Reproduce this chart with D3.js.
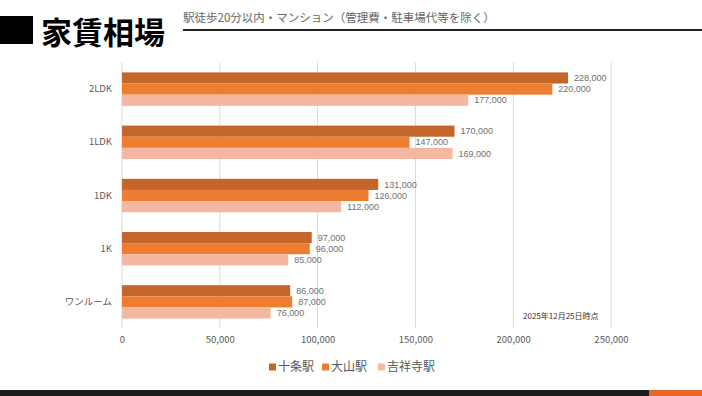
<!DOCTYPE html>
<html>
<head>
<meta charset="utf-8">
<script src="https://cdn.jsdelivr.net/npm/d3@7"></script>
<style>
  body { margin: 0; background: #fff; }
  svg { display: block; font-family: "Noto Sans CJK JP", "Noto Sans", sans-serif; }
</style>
</head>
<body>
<div id="chart"></div>
<script>
// data
const categories = ["2LDK", "1LDK", "1DK", "1K", "ワンルーム"];
const stations = ["十条駅", "大山駅", "吉祥寺駅"];
const jujo = [228000, 170000, 131000, 97000, 86000];
const oyama = [220000, 147000, 126000, 96000, 87000];
const kichijoji = [177000, 169000, 112000, 85000, 76000];
const xTicks = [0, 50000, 100000, 150000, 200000, 250000];

const series = [jujo, oyama, kichijoji];
const colors = ["#C4652A", "#ED7D31", "#F4B8A2"];

var width = 702, height = 396;

var svg = d3.select("#chart")
  .append("svg")
    .attr("width", width)
    .attr("height", height);

// header
svg.append("rect").attr("x", 0).attr("y", 16).attr("width", 33).attr("height", 28).attr("fill", "#000");
svg.append("text")
  .attr("x", 41).attr("y", 44)
  .style("font-size", "31px").style("font-weight", "700").style("fill", "#000")
  .text("家賃相場");
svg.append("text")
  .attr("x", 183).attr("y", 22)
  .style("font-size", "11.5px").style("fill", "#666")
  .text("駅徒歩20分以内・マンション（管理費・駐車場代等を除く）");
svg.append("line")
  .attr("x1", 183).attr("x2", width).attr("y1", 30).attr("y2", 30)
  .attr("stroke", "#222").attr("stroke-width", 2);

// footer band
svg.append("rect").attr("x", 0).attr("y", 390).attr("width", width).attr("height", 6).attr("fill", "#1c1c1c");
svg.append("rect").attr("x", 649).attr("y", 390).attr("width", width - 649).attr("height", 6).attr("fill", "#E8652B");

// scales
var x = d3.scaleLinear().domain([0, 250000]).range([122, 611]);
var y = d3.scaleBand().domain(categories).range([62.5, 328.5]).paddingInner(0.372).paddingOuter(0.186);
var ySub = d3.scaleBand().domain(d3.range(stations.length)).range([0, y.bandwidth()]);

// gridlines
svg.append("g")
  .selectAll("line")
  .data(xTicks)
  .enter().append("line")
    .attr("x1", d => x(d)).attr("x2", d => x(d))
    .attr("y1", 62.5).attr("y2", 328.5)
    .attr("stroke", "#d9d9d9").attr("stroke-width", 1);

// x axis labels
var xAxis = d3.axisBottom(x).tickValues(xTicks).tickSize(0).tickPadding(0).tickFormat(d3.format(","));
var gx = svg.append("g").attr("transform", "translate(0,336)").call(xAxis);
gx.select(".domain").remove();
gx.selectAll("text").style("font-size", "9.5px").style("fill", "#595959").style("font-family", "Noto Sans CJK JP, sans-serif");

// y axis labels
var yAxis = d3.axisLeft(y).tickSize(0).tickPadding(0);
var gy = svg.append("g").attr("transform", "translate(112,0)").call(yAxis);
gy.select(".domain").remove();
gy.selectAll("text").style("font-size", "9.5px").style("fill", "#595959").style("font-family", "Noto Sans CJK JP, sans-serif");

// bars and value labels
series.forEach(function(vals, s) {
  var g = svg.append("g");
  g.selectAll("rect")
    .data(vals)
    .enter().append("rect")
      .attr("x", x(0))
      .attr("y", (d, i) => y(categories[i]) + ySub(s))
      .attr("width", d => x(d) - x(0))
      .attr("height", ySub.bandwidth())
      .attr("fill", colors[s]);
  g.selectAll("text")
    .data(vals)
    .enter().append("text")
      .attr("x", d => x(d) + 6)
      .attr("y", (d, i) => y(categories[i]) + ySub(s) + ySub.bandwidth() / 2)
      .attr("dy", "0.35em")
      .style("font-size", "9px").style("fill", "#6f6f6f")
      .style("font-family", "Liberation Sans, sans-serif")
      .text(d => d3.format(",")(d));
});

// date note
svg.append("text")
  .attr("x", 523).attr("y", 319)
  .style("font-size", "8px").style("fill", "#333")
  .text("2025年12月25日時点");

// legend
var legendX = [269, 322, 378];
var legend = svg.selectAll(".legend")
  .data(stations)
  .enter().append("g")
    .attr("class", "legend")
    .attr("transform", (d, i) => "translate(" + legendX[i] + ",367)");
legend.append("rect")
  .attr("x", 0).attr("y", -3.5).attr("width", 7).attr("height", 7)
  .attr("fill", (d, i) => colors[i]);
legend.append("text")
  .attr("x", 9).attr("dy", "0.36em")
  .style("font-size", "12px").style("fill", "#595959")
  .text(d => d);
</script>
</body>
</html>
